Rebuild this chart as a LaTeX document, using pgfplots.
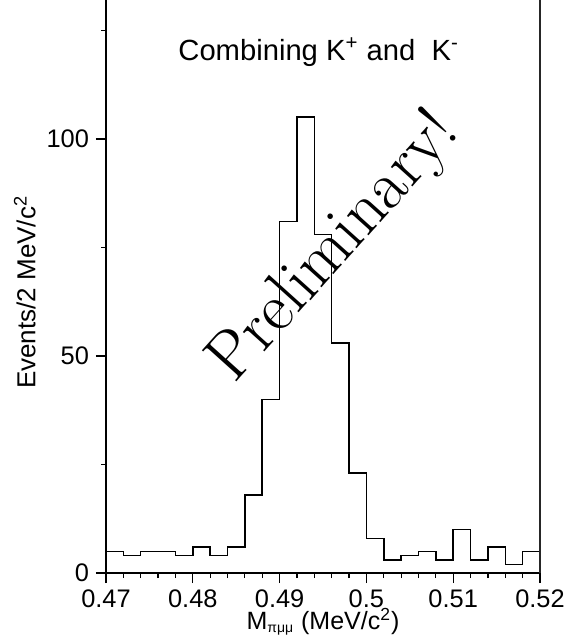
\documentclass[border=0pt]{standalone}
\usepackage{fontspec}
\setmainfont{Liberation Sans}
\newfontfamily\lmrfont{Latin Modern Roman}
\usepackage{pgfplots}
\pgfplotsset{compat=1.18}
\begin{document}
\begin{tikzpicture}
\useasboundingbox (-53pt,-34.5pt) rectangle (236.5pt,286.5pt);
\begin{axis}[
  at={(0,0)}, anchor=south west,
  scale only axis, width=217pt, height=286.5pt,
  xmin=0.47, xmax=0.52, ymin=0, ymax=132,
  axis x line*=bottom, axis y line*=left,
  xtick={0.47,0.48,0.49,0.5,0.51,0.52},
  minor x tick num=4,
  ytick={0,50,100}, minor ytick={25,75,125},
  tick pos=left, tick align=outside,
  major tick length=5pt, minor tick length=2.5pt,
  tick style={black, line width=0.6pt},
  axis line style={black, line width=0.9pt},
  ticklabel style={font=\fontsize{12.7}{14}\selectfont},
  /pgf/number format/assume math mode=true,
  scaled x ticks=false,
  xticklabel style={/pgf/number format/fixed},
  xlabel={M$_{\mbox{\fontsize{7}{8}\selectfont πμμ}}$ (MeV/c\textsuperscript{2})},
  ylabel={Events/2 MeV/c\textsuperscript{2}},
  every axis x label/.style={at={(axis description cs:0.5,-0.0855)}, anchor=center, font=\fontsize{12.5}{14}\selectfont},
  every axis y label/.style={at={(axis description cs:-0.187,0.49)}, anchor=center, rotate=90, font=\fontsize{13}{15}\selectfont},
  clip=false,
]
\addplot[const plot mark left, black, line width=0.75pt, mark=none] coordinates {
(0.470,5) (0.472,4) (0.474,5) (0.476,5) (0.478,4) (0.480,6) (0.482,4) (0.484,6)
(0.486,18) (0.488,40) (0.490,81) (0.492,105) (0.494,78) (0.496,53) (0.498,23)
(0.500,8) (0.502,3) (0.504,4) (0.506,5) (0.508,3) (0.510,10) (0.512,3) (0.514,6)
(0.516,2) (0.518,5) (0.520,5)
};
\draw[gray!70, line width=0.5pt] (rel axis cs:0,1) -- (rel axis cs:1,1);
\draw[black!85, line width=0.6pt] (rel axis cs:1,1) -- (rel axis cs:1,0);
\node[font=\fontsize{14.6}{16}\selectfont] at (axis cs:0.4945,120) {Combining K\textsuperscript{+} and\ \ K\textsuperscript{-}};
\node[rotate=48, font=\lmrfont\fontsize{34}{38}\selectfont] at (axis cs:0.49638,74.9) {Preliminary!};
\end{axis}
\end{tikzpicture}
\end{document}
